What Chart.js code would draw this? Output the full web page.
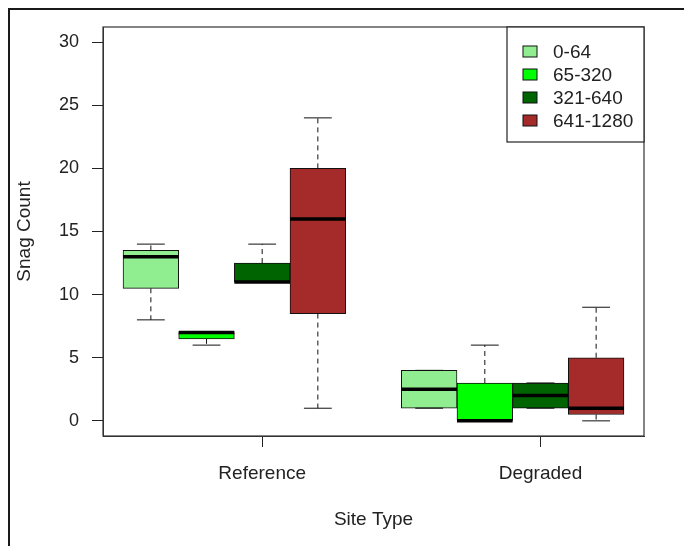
<!DOCTYPE html>
<html>
<head>
<meta charset="utf-8">
<script src="https://cdn.jsdelivr.net/npm/chart.js@4.4.1/dist/chart.umd.min.js"></script>
<style>
  html, body { margin: 0; padding: 0; background: #fff; }
  #wrap { position: relative; width: 684px; height: 546px; }
</style>
</head>
<body>
<div id="wrap"><canvas id="snagChart" width="684" height="546"></canvas></div>
<script>
// site types on the x axis and the snag size classes (one box per class)
const siteTypes = ["Reference", "Degraded"];
const sizeClasses = ["0-64", "65-320", "321-640", "641-1280"];
const classColors = ["#90EE90", "#00FF00", "#006400", "#A52A2A"];

// box stats, rows = site type, columns = size class
const whiskerLow  = [[8, 6, 11, 1],        [1, 0, 1, 0]];
const quart1      = [[10.5, 6.5, 11, 8.5], [1, 0, 1, 0.5]];
const medians     = [[13, 7, 11, 16],      [2.5, 0, 2, 1]];
const quart3      = [[13.5, 7, 12.5, 20],  [4, 3, 3, 5]];
const whiskerHigh = [[14, 7, 14, 24],      [4, 6, 3, 9]];

const yTickValues = [0, 5, 10, 15, 20, 25, 30];

const FONT = "'Liberation Sans', Arial, sans-serif";
const TEXT = "#222";

// boxes sit at 1..4 and 6..9, the axis label goes under the third box
const boxPos = (g, c) => g * 5 + c + 1;

const datasets = sizeClasses.map((label, c) => ({
  label: label,
  data: siteTypes.map((s, g) => ({ x: boxPos(g, c), y: [quart1[g][c], quart3[g][c]] })),
  backgroundColor: classColors[c],
  borderColor: "#111",
  borderWidth: 1,
  borderSkipped: false,
  grouped: false,
  barPercentage: 1,
  categoryPercentage: 1,
}));

// whiskers, staples and median lines
const boxExtras = {
  id: "boxExtras",
  afterDatasetsDraw(chart) {
    const ctx = chart.ctx;
    const y = chart.scales.y;
    ctx.save();
    chart.data.datasets.forEach((ds, c) => {
      const meta = chart.getDatasetMeta(c);
      meta.data.forEach((bar, g) => {
        const { x, width } = bar.getProps(["x", "width"], true);
        const yLo = y.getPixelForValue(whiskerLow[g][c]);
        const yQ1 = y.getPixelForValue(quart1[g][c]);
        const yQ3 = y.getPixelForValue(quart3[g][c]);
        const yHi = y.getPixelForValue(whiskerHigh[g][c]);
        const yMed = y.getPixelForValue(medians[g][c]);

        ctx.strokeStyle = "#111";
        ctx.lineWidth = 1;
        ctx.setLineDash([5, 4]);
        ctx.beginPath();
        if (yHi < yQ3) { ctx.moveTo(x, yQ3); ctx.lineTo(x, yHi); }
        if (yLo > yQ1) { ctx.moveTo(x, yQ1); ctx.lineTo(x, yLo); }
        ctx.stroke();

        ctx.setLineDash([]);
        ctx.beginPath();
        ctx.moveTo(x - width / 4, yHi); ctx.lineTo(x + width / 4, yHi);
        ctx.moveTo(x - width / 4, yLo); ctx.lineTo(x + width / 4, yLo);
        ctx.stroke();

        ctx.strokeStyle = "#000";
        ctx.lineWidth = 3.5;
        ctx.beginPath();
        ctx.moveTo(x - width / 2, yMed); ctx.lineTo(x + width / 2, yMed);
        ctx.stroke();
      });
    });
    ctx.restore();
  },
};

// plot box, outer frame and the legend in the top right corner
const frameAndLegend = {
  id: "frameAndLegend",
  beforeDraw(chart) {
    const ctx = chart.ctx;
    ctx.save();
    ctx.fillStyle = "#fff";
    ctx.fillRect(0, 0, chart.width, chart.height);
    ctx.strokeStyle = "#1a1a1a";
    ctx.lineWidth = 2;
    ctx.beginPath();
    ctx.moveTo(9, chart.height);
    ctx.lineTo(9, 9);
    ctx.lineTo(chart.width, 9);
    ctx.stroke();
    ctx.restore();
  },
  afterDraw(chart) {
    const ctx = chart.ctx;
    const a = chart.chartArea;
    ctx.save();
    ctx.strokeStyle = "#333";
    ctx.lineWidth = 1.2;
    ctx.strokeRect(a.left, a.top, a.right - a.left, a.bottom - a.top);

    const lx = 507, ly = a.top, lh = 115;
    ctx.fillStyle = "#fff";
    ctx.fillRect(lx, ly, a.right - lx, lh);
    ctx.strokeStyle = "#222";
    ctx.lineWidth = 1.2;
    ctx.strokeRect(lx, ly, a.right - lx, lh);

    ctx.font = "19px " + FONT;
    ctx.textBaseline = "middle";
    ctx.textAlign = "left";
    chart.data.datasets.forEach((ds, i) => {
      const cy = 51.5 + i * 23;
      ctx.fillStyle = ds.backgroundColor;
      ctx.fillRect(523, cy - 5.5, 14, 11);
      ctx.strokeStyle = "#111";
      ctx.lineWidth = 1;
      ctx.strokeRect(523, cy - 5.5, 14, 11);
      ctx.fillStyle = TEXT;
      ctx.fillText(ds.label, 553, cy + 1);
    });
    ctx.restore();
  },
};

new Chart(document.getElementById("snagChart"), {
  type: "bar",
  data: { datasets: datasets },
  plugins: [boxExtras, frameAndLegend],
  options: {
    responsive: false,
    animation: false,
    devicePixelRatio: 1,
    layout: { padding: { left: 8, top: 27, right: 40, bottom: 0 } },
    plugins: {
      legend: { display: false },
      tooltip: { enabled: false },
    },
    scales: {
      x: {
        type: "linear",
        min: 0.14,
        max: 9.86,
        offset: false,
        afterBuildTicks: (scale) => {
          scale.ticks = siteTypes.map((s, g) => ({ value: boxPos(g, 2) }));
        },
        afterFit: (scale) => { scale.height = 110; },
        ticks: {
          autoSkip: false,
          padding: 15,
          color: TEXT,
          font: { family: FONT, size: 19 },
          callback: (value, index) => siteTypes[index],
        },
        grid: { drawOnChartArea: false, drawTicks: true, tickLength: 11, tickColor: "#222", offset: false },
        border: { display: true, color: "#333" },
        title: {
          display: true,
          text: "Site Type",
          color: TEXT,
          font: { family: FONT, size: 19 },
          padding: { top: 0, bottom: 15 },
        },
      },
      y: {
        min: -1.2,
        max: 31.2,
        afterBuildTicks: (scale) => {
          scale.ticks = yTickValues.map((v) => ({ value: v }));
        },
        afterFit: (scale) => { scale.width = 95; },
        ticks: {
          padding: 13,
          color: TEXT,
          font: { family: FONT, size: 18 },
        },
        grid: { drawOnChartArea: false, drawTicks: true, tickLength: 11, tickColor: "#222" },
        border: { display: true, color: "#333" },
        title: {
          display: true,
          text: "Snag Count",
          color: TEXT,
          font: { family: FONT, size: 19 },
          padding: { top: 5, bottom: 0 },
        },
      },
    },
  },
});
</script>
</body>
</html>
